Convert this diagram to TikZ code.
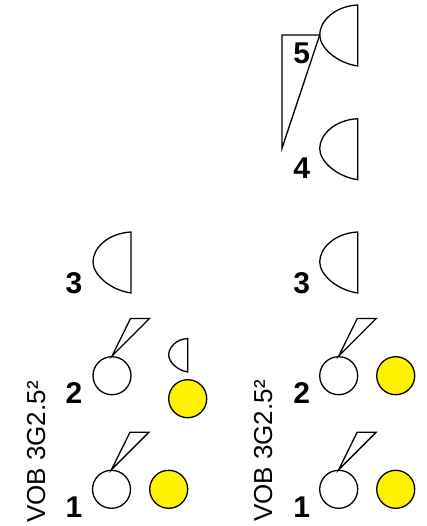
\documentclass[tikz,border=0pt]{standalone}
\usepackage{fontspec}
\setmainfont{Liberation Sans}
\tikzset{
  ring/.style={circle,draw=black,line width=1.3pt,minimum size=38pt,inner sep=0pt,fill=white},
  sun/.style={ring,fill=yellow},
  num/.style={font=\bfseries\fontsize{30}{30}\selectfont,inner sep=0pt},
  vlabel/.style={font=\fontsize{26}{26}\selectfont,rotate=90,anchor=base west,inner sep=0pt},
  outline/.style={draw=black,line width=1.3pt,line join=miter},
}
\newcommand{\halfD}[4]{% x right, y top, width, height
  \draw[outline] (#1,#2) .. controls ({#1-0.62*#3},{#2+0.02*#4}) and ({#1-#3},{#2+0.27*#4}) .. ({#1-#3},{#2+0.49*#4})
    .. controls ({#1-#3},{#2+0.70*#4}) and ({#1-0.55*#3},{#2+0.95*#4}) .. (#1,{#2+#4}) -- cycle;}
\newcommand{\flagfrom}[1]{% circle name
  \draw[outline] (#1.north) -- ++(18.5,-37.5) -- ++(19,0) -- cycle;}
\begin{document}
\begin{tikzpicture}[x=1pt,y=-1pt]
\useasboundingbox (0,0) rectangle (427,526);
% left column
\node[ring] (a1) at (111.5,489.3) {};
\node[sun]  (s1) at (168.7,489.3) {};
\node[ring] (a2) at (112,375.7) {};
\node[sun]  (s2) at (187.7,398.7) {};
\flagfrom{a1}
\flagfrom{a2}
\halfD{187.7}{338.5}{19}{33.5}
\halfD{131}{232}{38}{61}
\node[num] (l1) at (74,507) {1};
\node[num] (l2) at (74,393.3) {2};
\node[num] (l3) at (74,283.3) {3};
\node[vlabel] (v1) at (45,523) {VOB 3G2.5²};
% right column
\node[ring] (b1) at (338.7,489.3) {};
\node[sun]  (t1) at (395.7,489.3) {};
\node[ring] (b2) at (338.7,375.7) {};
\node[sun]  (t2) at (395.7,375.7) {};
\flagfrom{b1}
\flagfrom{b2}
\halfD{357.7}{232}{38}{61}
\halfD{357.7}{118.7}{38}{61}
\halfD{357.7}{5}{38}{61}
\coordinate (dl) at (319.7,35);
\coordinate (tc) at (282,35);
\coordinate (tb) at (282,148.3);
\draw[outline] (dl) -- (tc) -- (tb) -- cycle;
\node[num] (r1) at (301.7,507) {1};
\node[num] (r2) at (301.7,393.3) {2};
\node[num] (r3) at (301.7,283.3) {3};
\node[num] (r4) at (301.7,168) {4};
\node[num] (r5) at (301.7,53.5) {5};
\node[vlabel] (v2) at (272,522) {VOB 3G2.5²};
\end{tikzpicture}
\end{document}
